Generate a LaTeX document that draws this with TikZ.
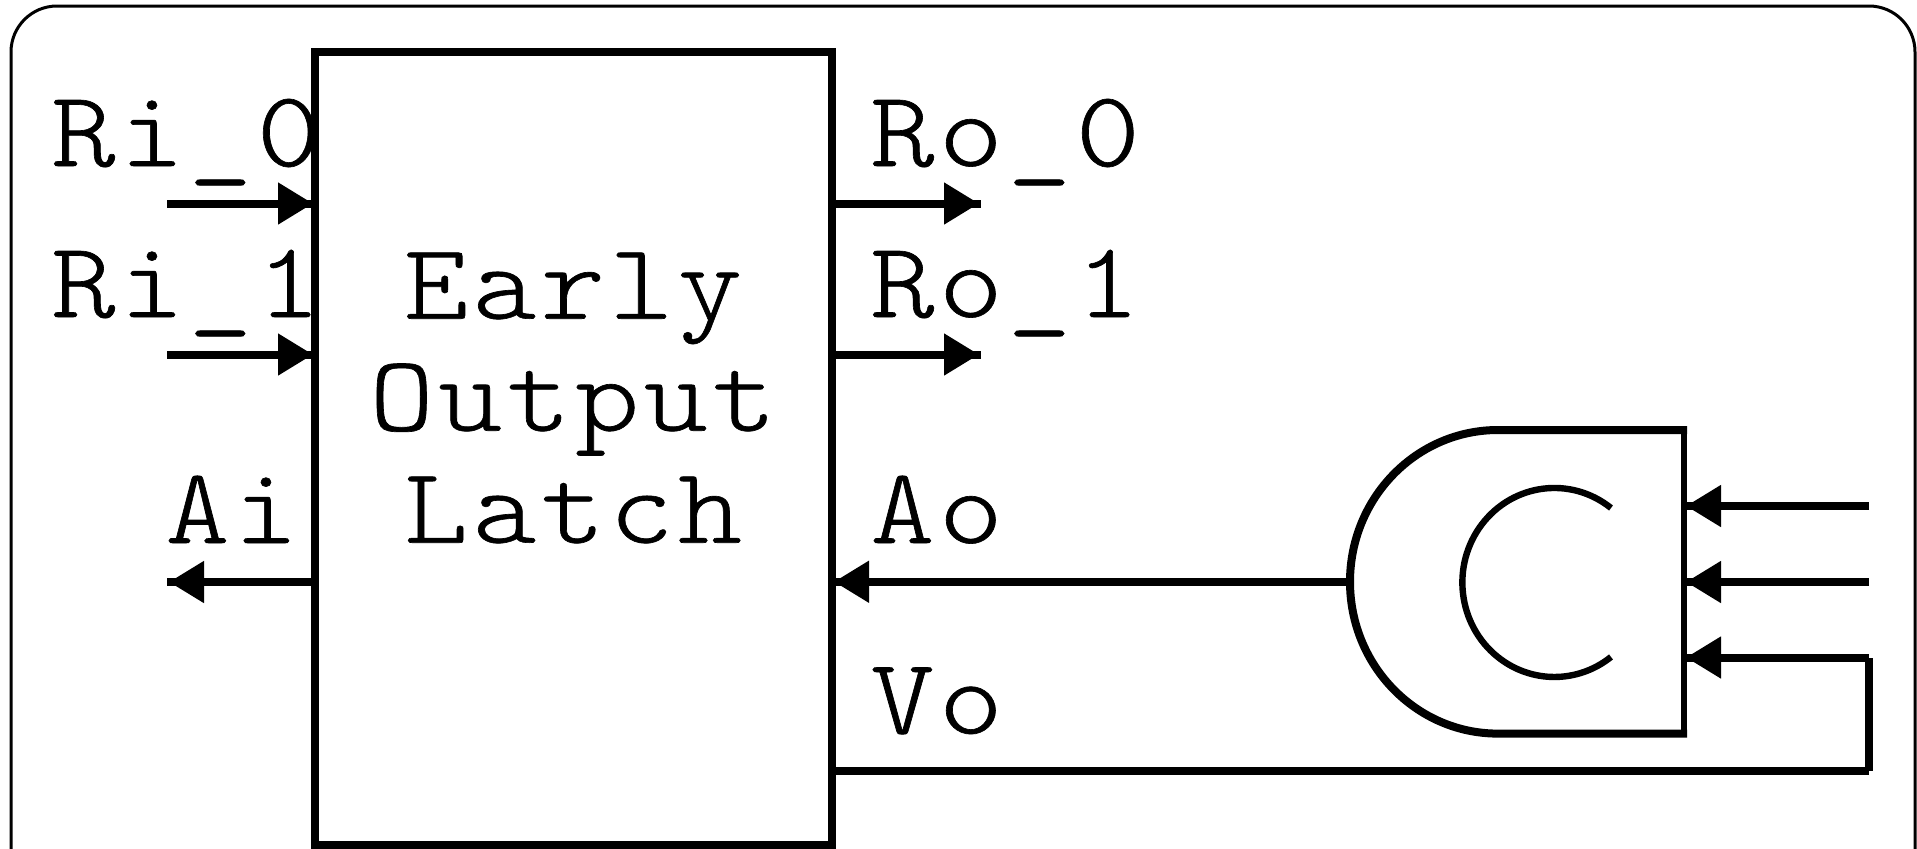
\documentclass[tikz,border=0pt]{standalone}
\usepackage{fontspec}
\usetikzlibrary{positioning,arrows.meta,decorations.markings}
\newfontfamily\labelfont[FakeStretch=1.13,LetterSpace=4.1,FakeBold=0.6]{Latin Modern Mono Light}

\begin{document}
\begin{tikzpicture}[x=0.5pt,y=-0.5pt,
                    latchnode/.style={rectangle, draw=black, line width=4pt, inner sep=0pt, outer sep=0pt, minimum width=258.5pt, minimum height=396.5pt},
                    gatenode/.style={rectangle, inner sep=0pt, outer sep=0pt, minimum width=167pt, minimum height=151.75pt},
                    signalnode/.style={anchor=base west, inner sep=0pt, font=\labelfont\fontsize{54}{56}\selectfont},
                    wire/.style={draw=black, line width=4pt},
                    headwire/.style={wire, postaction={decorate, decoration={markings, mark=at position -1pt with {\arrow{Triangle[length=17.5pt, width=20pt]}}}}},]
    \clip (0,0) rectangle (1917,848);
    \draw[line width=1.5pt, rounded corners=23pt] (11,6) rectangle (1915,900);
    % nodes
    \node[signalnode]     (ri0text)   at (51,166)          {Ri\_0};
    \node[signalnode]     (ri1text)   at (51,317)          {Ri\_1};
    \node[signalnode]     (aitext)    at (165,543)         {Ai};
    \node[signalnode]     (ro0text)   at (870,166)         {Ro\_0};
    \node[signalnode]     (ro1text)   at (870,317)         {Ro\_1};
    \node[signalnode]     (aotext)    at (870,543)         {Ao};
    \node[signalnode]     (votext)    at (870,733.5)       {Vo};
    \node[latchnode]      (latch)     at (573.5,448.5)     {};
    \node[gatenode]       (gate)      at (1517,581.75)     {};
    \node[inner sep=0pt, align=center, font=\labelfont\fontsize{54}{56}\selectfont] (latchtext) at (573,398) {Early\\Output\\Latch};
    % free ends
    \coordinate (ri0) at (167,203.5);
    \coordinate (ri1) at (167,354.5);
    \coordinate (ai)  at (167,582);
    \coordinate (ro0) at (981,203.5);
    \coordinate (ro1) at (981,354.5);
    \coordinate (in0) at (1869,506);
    \coordinate (in1) at (1869,582);
    \coordinate (in2) at (1869,657.5);
    \coordinate (vo)  at (1869,771);
    % gate
    \draw[wire] ([xshift=1.5pt]gate.north east) -- (1498,430) arc (90:270:74pt and 75.9pt) -- ([xshift=1.5pt]gate.south east);
    \draw[wire, line width=3.4pt] (gate.north east) -- (gate.south east);
    \draw[wire, line width=3.2pt] (1611,508) arc (52:308:46pt and 47.25pt);
    % lines
    \draw[headwire] (ri0) -- (latch.west |- ri0);
    \draw[headwire] (ri1) -- (latch.west |- ri1);
    \draw[headwire] (latch.west |- ai) -- (ai);
    \draw[headwire] (latch.east |- ro0) -- (ro0);
    \draw[headwire] (latch.east |- ro1) -- (ro1);
    \draw[headwire] (gate.west) -- (latch.east |- gate.west);
    \draw[headwire] (in0) -- (gate.east |- in0);
    \draw[headwire] (in1) -- (gate.east |- in1);
    \draw[headwire] (in2) -- (gate.east |- in2);
    \draw[wire] (latch.east |- vo) -- (vo);
    \draw[wire] (vo) -- (in2);
\end{tikzpicture}
\end{document}
